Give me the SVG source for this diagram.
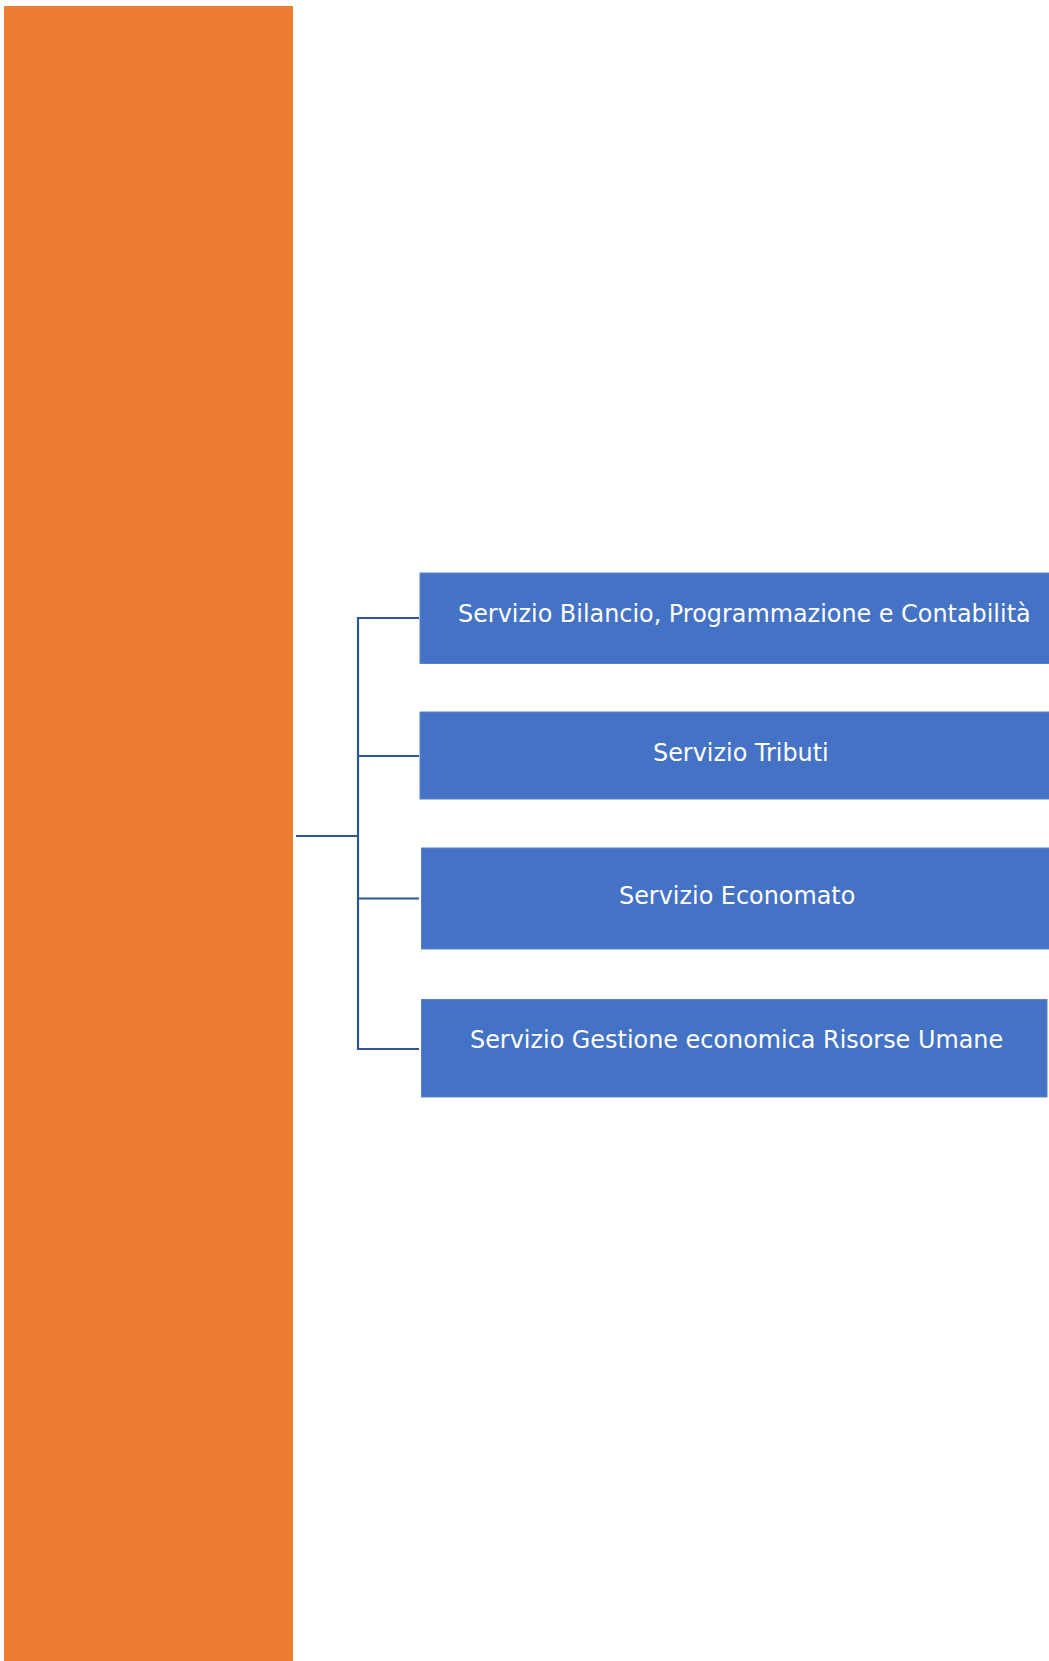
<svg xmlns="http://www.w3.org/2000/svg" width="1049" height="1661" viewBox="0 0 1049 1661">
<style>
.box{fill:#4472C4;stroke:#5a82cc;stroke-width:1}
.lbl{font-family:"DejaVu Sans",Verdana,sans-serif;font-size:23.9px;fill:#ffffff}
.conn{fill:none;stroke:#2F5597;stroke-width:2.2}
</style>
<rect width="1049" height="1661" fill="#ffffff"/>
<g id="root"><rect x="4" y="6" width="289" height="1660" fill="#ED7D31"/></g>
<g id="connectors">
<line class="conn" x1="296" y1="836" x2="358" y2="836" stroke-width="3.2"/>
<polyline class="conn" points="419,618 358,618 358,1049 419,1049"/>
<line class="conn" x1="358" y1="756" x2="419" y2="756"/>
<line class="conn" x1="358" y1="898.5" x2="419" y2="898.5"/>
</g>
<g id="n1"><rect class="box" x="420" y="573" width="635" height="90.5"/><text class="lbl" x="458" y="622">Servizio Bilancio, Programmazione e Contabilità</text></g>
<g id="n2"><rect class="box" x="420" y="712" width="635" height="87"/><text class="lbl" x="653" y="761">Servizio Tributi</text></g>
<g id="n3"><rect class="box" x="421.5" y="848" width="635" height="101"/><text class="lbl" x="619" y="903.5">Servizio Economato</text></g>
<g id="n4"><rect class="box" x="421.5" y="999.5" width="625.5" height="97.5"/><text class="lbl" x="470" y="1048">Servizio Gestione economica Risorse Umane</text></g>
</svg>
